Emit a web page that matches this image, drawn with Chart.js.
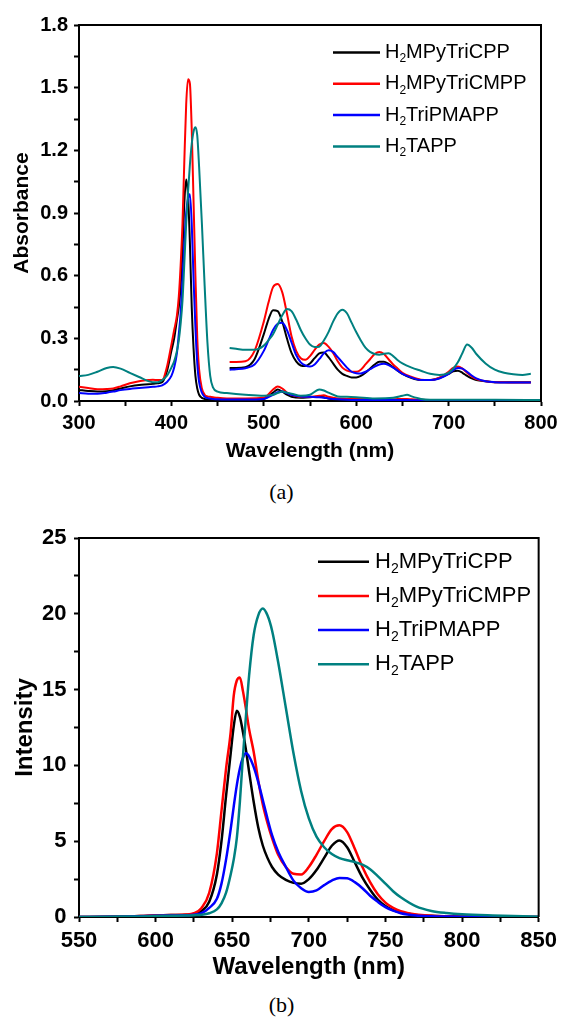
<!DOCTYPE html>
<html><head><meta charset="utf-8">
<script src="https://cdn.jsdelivr.net/npm/chart.js@4.4.0/dist/chart.umd.min.js"></script>
<style>
html,body{margin:0;padding:0;background:#fff;width:563px;height:1019px;overflow:hidden;position:relative;}
#ca{position:absolute;left:0;top:0;}
#cb{position:absolute;left:0;top:510px;}
.cap{position:absolute;left:0;width:563px;text-align:center;font-family:"Liberation Serif","Times New Roman",serif;font-size:22px;line-height:26px;color:#000;}
</style></head><body>
<canvas id="ca" width="563" height="470"></canvas>
<div class="cap" style="top:479px">(a)</div>
<canvas id="cb" width="563" height="480"></canvas>
<div class="cap" style="top:992px">(b)</div>
<script>
// ---------- series names / colours ----------
const seriesNames = ['H₂MPyTriCPP', 'H₂MPyTriCMPP', 'H₂TriPMAPP', 'H₂TAPP'];
const seriesColors = ['#000000', '#ff0000', '#0000ff', '#008080'];

// ---------- (a) UV-vis absorbance, full traces ----------
const absWl = [300,310,320,330,337,345,355,365,375,380,385,390,395,400,403,406,408,410,412,414,416,418,420,422,424,426,428,430,433,436,439,442,445,450,460,480,500,510,515,520,525,530,540,550,560,565,570,580,590,600,620,640,650,655,660,670,680,700,750,800];
const absBlack = [.053,.048,.045,.047,.052,.06,.07,.077,.08,.082,.085,.09,.14,.24,.3,.39,.45,.55,.72,.95,1.06,.98,.76,.45,.25,.12,.06,.03,.015,.01,.008,.007,.006,.005,.005,.006,.01,.04,.055,.045,.03,.02,.015,.018,.02,.018,.012,.008,.006,.006,.005,.005,.005,.005,.004,.004,.003,.003,.002,.002];
const absRed = [.068,.062,.056,.057,.06,.07,.085,.095,.1,.102,.1,.1,.16,.27,.34,.41,.5,.65,.85,1.15,1.42,1.54,1.52,1.3,.95,.6,.3,.15,.06,.03,.022,.02,.018,.015,.012,.012,.015,.055,.07,.06,.04,.03,.02,.02,.025,.027,.02,.012,.01,.01,.01,.008,.01,.01,.008,.006,.005,.005,.004,.004];
const absBlue = [.038,.035,.035,.04,.045,.052,.058,.062,.066,.068,.07,.075,.09,.12,.16,.23,.32,.42,.58,.75,.9,.97,.99,.85,.58,.35,.18,.09,.04,.02,.014,.012,.01,.008,.007,.007,.01,.03,.042,.045,.038,.03,.022,.02,.018,.016,.012,.008,.006,.005,.005,.005,.005,.005,.004,.004,.003,.003,.002,.002];
const absTeal = [.12,.125,.14,.158,.163,.155,.135,.115,.095,.09,.09,.1,.12,.16,.19,.24,.29,.37,.48,.66,.85,1.0,1.13,1.23,1.29,1.31,1.27,1.12,.85,.55,.28,.12,.065,.045,.038,.03,.025,.03,.038,.045,.04,.035,.025,.03,.055,.05,.04,.022,.02,.018,.012,.015,.025,.03,.022,.01,.006,.006,.006,.005];

// ---------- (a) magnified Q-band traces ----------
const qWl = [463,470,480,490,500,505,510,515,520,525,530,535,540,545,550,555,560,565,570,575,580,585,590,595,600,605,610,615,620,625,630,635,640,645,650,660,670,680,690,700,705,710,715,720,725,730,740,750,760,770,780,789];
const qBlack = [.158,.158,.162,.2,.32,.39,.435,.43,.38,.3,.23,.19,.17,.167,.18,.205,.228,.232,.21,.18,.15,.13,.12,.113,.113,.12,.135,.155,.175,.188,.188,.178,.162,.145,.13,.11,.1,.1,.11,.13,.142,.145,.135,.12,.108,.1,.094,.09,.09,.09,.09,.09];
const qRed = [.187,.187,.19,.24,.38,.47,.545,.56,.52,.42,.31,.24,.205,.197,.215,.245,.27,.278,.26,.23,.19,.16,.145,.14,.14,.15,.175,.2,.225,.235,.225,.2,.175,.155,.135,.115,.102,.1,.112,.14,.158,.165,.155,.135,.118,.105,.095,.09,.09,.088,.088,.088];
const qBlue = [.15,.152,.157,.175,.24,.29,.34,.37,.375,.34,.28,.22,.185,.17,.165,.175,.2,.228,.243,.235,.21,.185,.16,.14,.133,.132,.14,.152,.165,.175,.178,.172,.16,.145,.13,.112,.1,.1,.108,.13,.148,.158,.155,.14,.122,.108,.095,.09,.088,.088,.088,.088];
const qTeal = [.254,.25,.245,.245,.265,.29,.32,.365,.41,.44,.43,.39,.34,.3,.27,.258,.26,.29,.33,.38,.42,.437,.42,.375,.33,.29,.255,.235,.225,.222,.226,.228,.215,.195,.18,.16,.145,.13,.125,.135,.155,.185,.23,.27,.255,.225,.18,.15,.135,.128,.125,.13];

// ---------- (b) fluorescence emission ----------
const flWl = [550,570,590,600,610,620,625,630,635,640,643,646,649,651,653,655,657,659,661,664,667,670,673,676,680,685,690,695,700,705,710,715,720,725,730,735,740,745,750,755,760,770,780,790,800,820,850];
const flBlack = [0,.02,.06,.1,.13,.15,.2,.4,1.0,2.8,5.0,8.0,10.8,12.6,13.6,13.2,12.2,11.0,9.6,7.6,5.9,4.7,3.9,3.3,2.8,2.45,2.25,2.2,2.5,3.1,3.9,4.7,5.05,4.6,3.6,2.6,1.8,1.15,.72,.45,.3,.14,.08,.05,.03,.01,0];
const flRed = [0,.02,.06,.1,.13,.16,.25,.6,1.6,4.2,7.0,9.8,12.2,14.6,15.6,15.8,14.9,13.7,12.4,10.9,9.0,7.4,6.2,5.2,4.1,3.3,2.85,2.8,3.3,4.1,5.0,5.8,6.05,5.6,4.5,3.3,2.3,1.5,.95,.6,.38,.17,.09,.05,.03,.01,0];
const flBlue = [0,.02,.05,.08,.1,.12,.15,.25,.6,1.2,2.2,3.8,5.8,7.3,8.7,9.8,10.5,10.8,10.6,9.9,8.9,7.7,6.5,5.4,4.3,3.3,2.4,1.9,1.65,1.75,2.1,2.4,2.58,2.55,2.3,1.9,1.4,1.0,.65,.42,.25,.1,.05,.03,.02,.01,0];
const flTeal = [0,.02,.04,.06,.08,.1,.12,.15,.25,.5,.9,1.6,2.8,3.8,5.2,7.6,10.6,13.3,15.9,18.6,19.9,20.35,19.9,18.9,16.8,13.8,10.8,8.3,6.5,5.3,4.6,4.15,3.88,3.74,3.62,3.45,3.15,2.7,2.2,1.7,1.3,.7,.4,.26,.18,.1,.02];

// ---------- tick label values ----------
const absXLabels = [300, 400, 500, 600, 700, 800];
const absYLabels = ['0.0', '0.3', '0.6', '0.9', '1.2', '1.5', '1.8'];
const flXLabels = [550, 600, 650, 700, 750, 800, 850];
const flYLabels = ['0', '5', '10', '15', '20', '25'];

// ---------- helpers ----------
const FONT = '"Liberation Sans", Arial, sans-serif';
Chart.defaults.font.family = FONT;
Chart.defaults.color = '#000';
const pts = (xs, ys) => xs.map((x, i) => ({ x: x, y: ys[i] }));
const lineDs = (label, data, color, lw, order, inLegend) => ({
  label: label, data: data, borderColor: color, backgroundColor: color,
  borderWidth: lw, pointRadius: 0, fill: false, cubicInterpolationMode: 'monotone',
  order: order, inLegend: inLegend
});

const framePlugin = {
  id: 'frame',
  afterDraw(chart) {
    const a = chart.chartArea, ctx = chart.ctx;
    ctx.save();
    ctx.strokeStyle = '#000'; ctx.lineWidth = 2;
    ctx.beginPath();
    ctx.moveTo(a.left, a.top); ctx.lineTo(a.right, a.top); ctx.lineTo(a.right, a.bottom);
    ctx.stroke();
    ctx.restore();
  }
};

const subLegendPlugin = {
  id: 'subLegend',
  afterDraw(chart, args, o) {
    const ctx = chart.ctx;
    ctx.save();
    let k = 0;
    chart.data.datasets.forEach(ds => {
      if (!ds.inLegend) return;
      const y = o.top + o.gap * k; k++;
      ctx.strokeStyle = ds.borderColor; ctx.lineWidth = o.lw;
      ctx.beginPath(); ctx.moveTo(o.x, y); ctx.lineTo(o.x + o.len, y); ctx.stroke();
      const parts = ds.label.split('₂');
      let x = o.x + o.len + o.pad;
      ctx.fillStyle = '#000'; ctx.textBaseline = 'middle'; ctx.textAlign = 'left';
      ctx.font = o.size + 'px ' + FONT;
      ctx.fillText(parts[0], x, y); x += ctx.measureText(parts[0]).width;
      if (parts.length > 1) {
        const ss = Math.round(o.size * 0.62);
        ctx.font = ss + 'px ' + FONT;
        ctx.fillText('2', x, y + o.size * 0.33); x += ctx.measureText('2').width;
        ctx.font = o.size + 'px ' + FONT;
        ctx.fillText(parts[1], x, y);
      }
    });
    ctx.restore();
  }
};

function axes(o) {
  return {
    x: {
      type: 'linear', min: o.xmin, max: o.xmax,
      afterFit: s => { s.height = o.xh; },
      afterBuildTicks: s => { s.ticks = o.xticks.map(v => ({ value: v })); },
      ticks: {
        autoSkip: false, maxRotation: 0, padding: o.xpad,
        font: { size: o.tick, weight: 'bold' },
        callback: v => (o.xLabels.indexOf(v) >= 0 ? String(v) : '')
      },
      grid: { drawOnChartArea: false, drawTicks: true, tickLength: 5, tickWidth: 2, tickColor: '#000' },
      border: { display: true, color: '#000', width: 2 },
      title: { display: true, text: 'Wavelength (nm)', font: { size: o.title, weight: 'bold' }, padding: { top: 0, bottom: 0 } }
    },
    y: {
      type: 'linear', min: o.ymin, max: o.ymax,
      afterFit: s => { s.width = 79; },
      afterBuildTicks: s => { s.ticks = o.yticks.map(v => ({ value: v })); },
      ticks: {
        autoSkip: false, padding: o.ypad,
        font: { size: o.tick, weight: 'bold' },
        callback: (v, i) => (i % 2 === 0 ? o.yLabels[i / 2] : '')
      },
      grid: { drawOnChartArea: false, drawTicks: true, tickLength: 5, tickWidth: 2, tickColor: '#000' },
      border: { display: true, color: '#000', width: 2 },
      title: { display: true, text: o.ytitle, font: { size: o.title, weight: 'bold' }, padding: { top: o.ytpad, bottom: 0 } }
    }
  };
}

const absXTicks = [], absYTicks = [], flXTicks = [], flYTicks = [];
for (let v = 300; v <= 800; v += 50) absXTicks.push(v);
for (let i = 0; i <= 12; i++) absYTicks.push(+(i * 0.15).toFixed(2));
for (let v = 550; v <= 850; v += 25) flXTicks.push(v);
for (let i = 0; i <= 10; i++) flYTicks.push(i * 2.5);

// ---------- chart (a) ----------
new Chart(document.getElementById('ca'), {
  type: 'line',
  data: {
    datasets: [
      lineDs(seriesNames[0], pts(absWl, absBlack), seriesColors[0], 2, 4, true),
      lineDs(seriesNames[1], pts(absWl, absRed), seriesColors[1], 2, 3, true),
      lineDs(seriesNames[2], pts(absWl, absBlue), seriesColors[2], 2, 2, true),
      lineDs(seriesNames[3], pts(absWl, absTeal), seriesColors[3], 2, 1, true),
      lineDs(seriesNames[0], pts(qWl, qBlack), seriesColors[0], 2, 4, false),
      lineDs(seriesNames[1], pts(qWl, qRed), seriesColors[1], 2, 3, false),
      lineDs(seriesNames[2], pts(qWl, qBlue), seriesColors[2], 2, 2, false),
      lineDs(seriesNames[3], pts(qWl, qTeal), seriesColors[3], 2, 1, false)
    ]
  },
  options: {
    responsive: false, animation: false, events: [],
    layout: { padding: { left: 0, right: 22, top: 25, bottom: 6 } },
    scales: axes({ xmin: 300, xmax: 800, ymin: 0, ymax: 1.8, xticks: absXTicks, yticks: absYTicks,
      xLabels: absXLabels, yLabels: absYLabels, xh: 63, xpad: 5, ypad: 6, tick: 20, title: 21,
      ytitle: 'Absorbance', ytpad: 10 }),
    plugins: {
      legend: { display: false }, tooltip: { enabled: false },
      subLegend: { x: 333, len: 47, pad: 5, top: 52.5, gap: 31.3, size: 20, lw: 2.5 }
    }
  },
  plugins: [framePlugin, subLegendPlugin]
});

// ---------- chart (b) ----------
new Chart(document.getElementById('cb'), {
  type: 'line',
  data: {
    datasets: [
      lineDs(seriesNames[0], pts(flWl, flBlack), seriesColors[0], 2.5, 4, true),
      lineDs(seriesNames[1], pts(flWl, flRed), seriesColors[1], 2.5, 3, true),
      lineDs(seriesNames[2], pts(flWl, flBlue), seriesColors[2], 2.5, 2, true),
      lineDs(seriesNames[3], pts(flWl, flTeal), seriesColors[3], 2.5, 1, true)
    ]
  },
  options: {
    responsive: false, animation: false, events: [],
    layout: { padding: { left: 0, right: 21, top: 28, bottom: 8 } },
    scales: axes({ xmin: 550, xmax: 850, ymin: 0, ymax: 25, xticks: flXTicks, yticks: flYTicks,
      xLabels: flXLabels, yLabels: flYLabels, xh: 65, xpad: 6, ypad: 7.5, tick: 22, title: 24,
      ytitle: 'Intensity', ytpad: 10.5 }),
    plugins: {
      legend: { display: false }, tooltip: { enabled: false },
      subLegend: { x: 318, len: 51, pad: 6, top: 51.7, gap: 34.2, size: 22, lw: 2.5 }
    }
  },
  plugins: [framePlugin, subLegendPlugin]
});
</script>
</body></html>
